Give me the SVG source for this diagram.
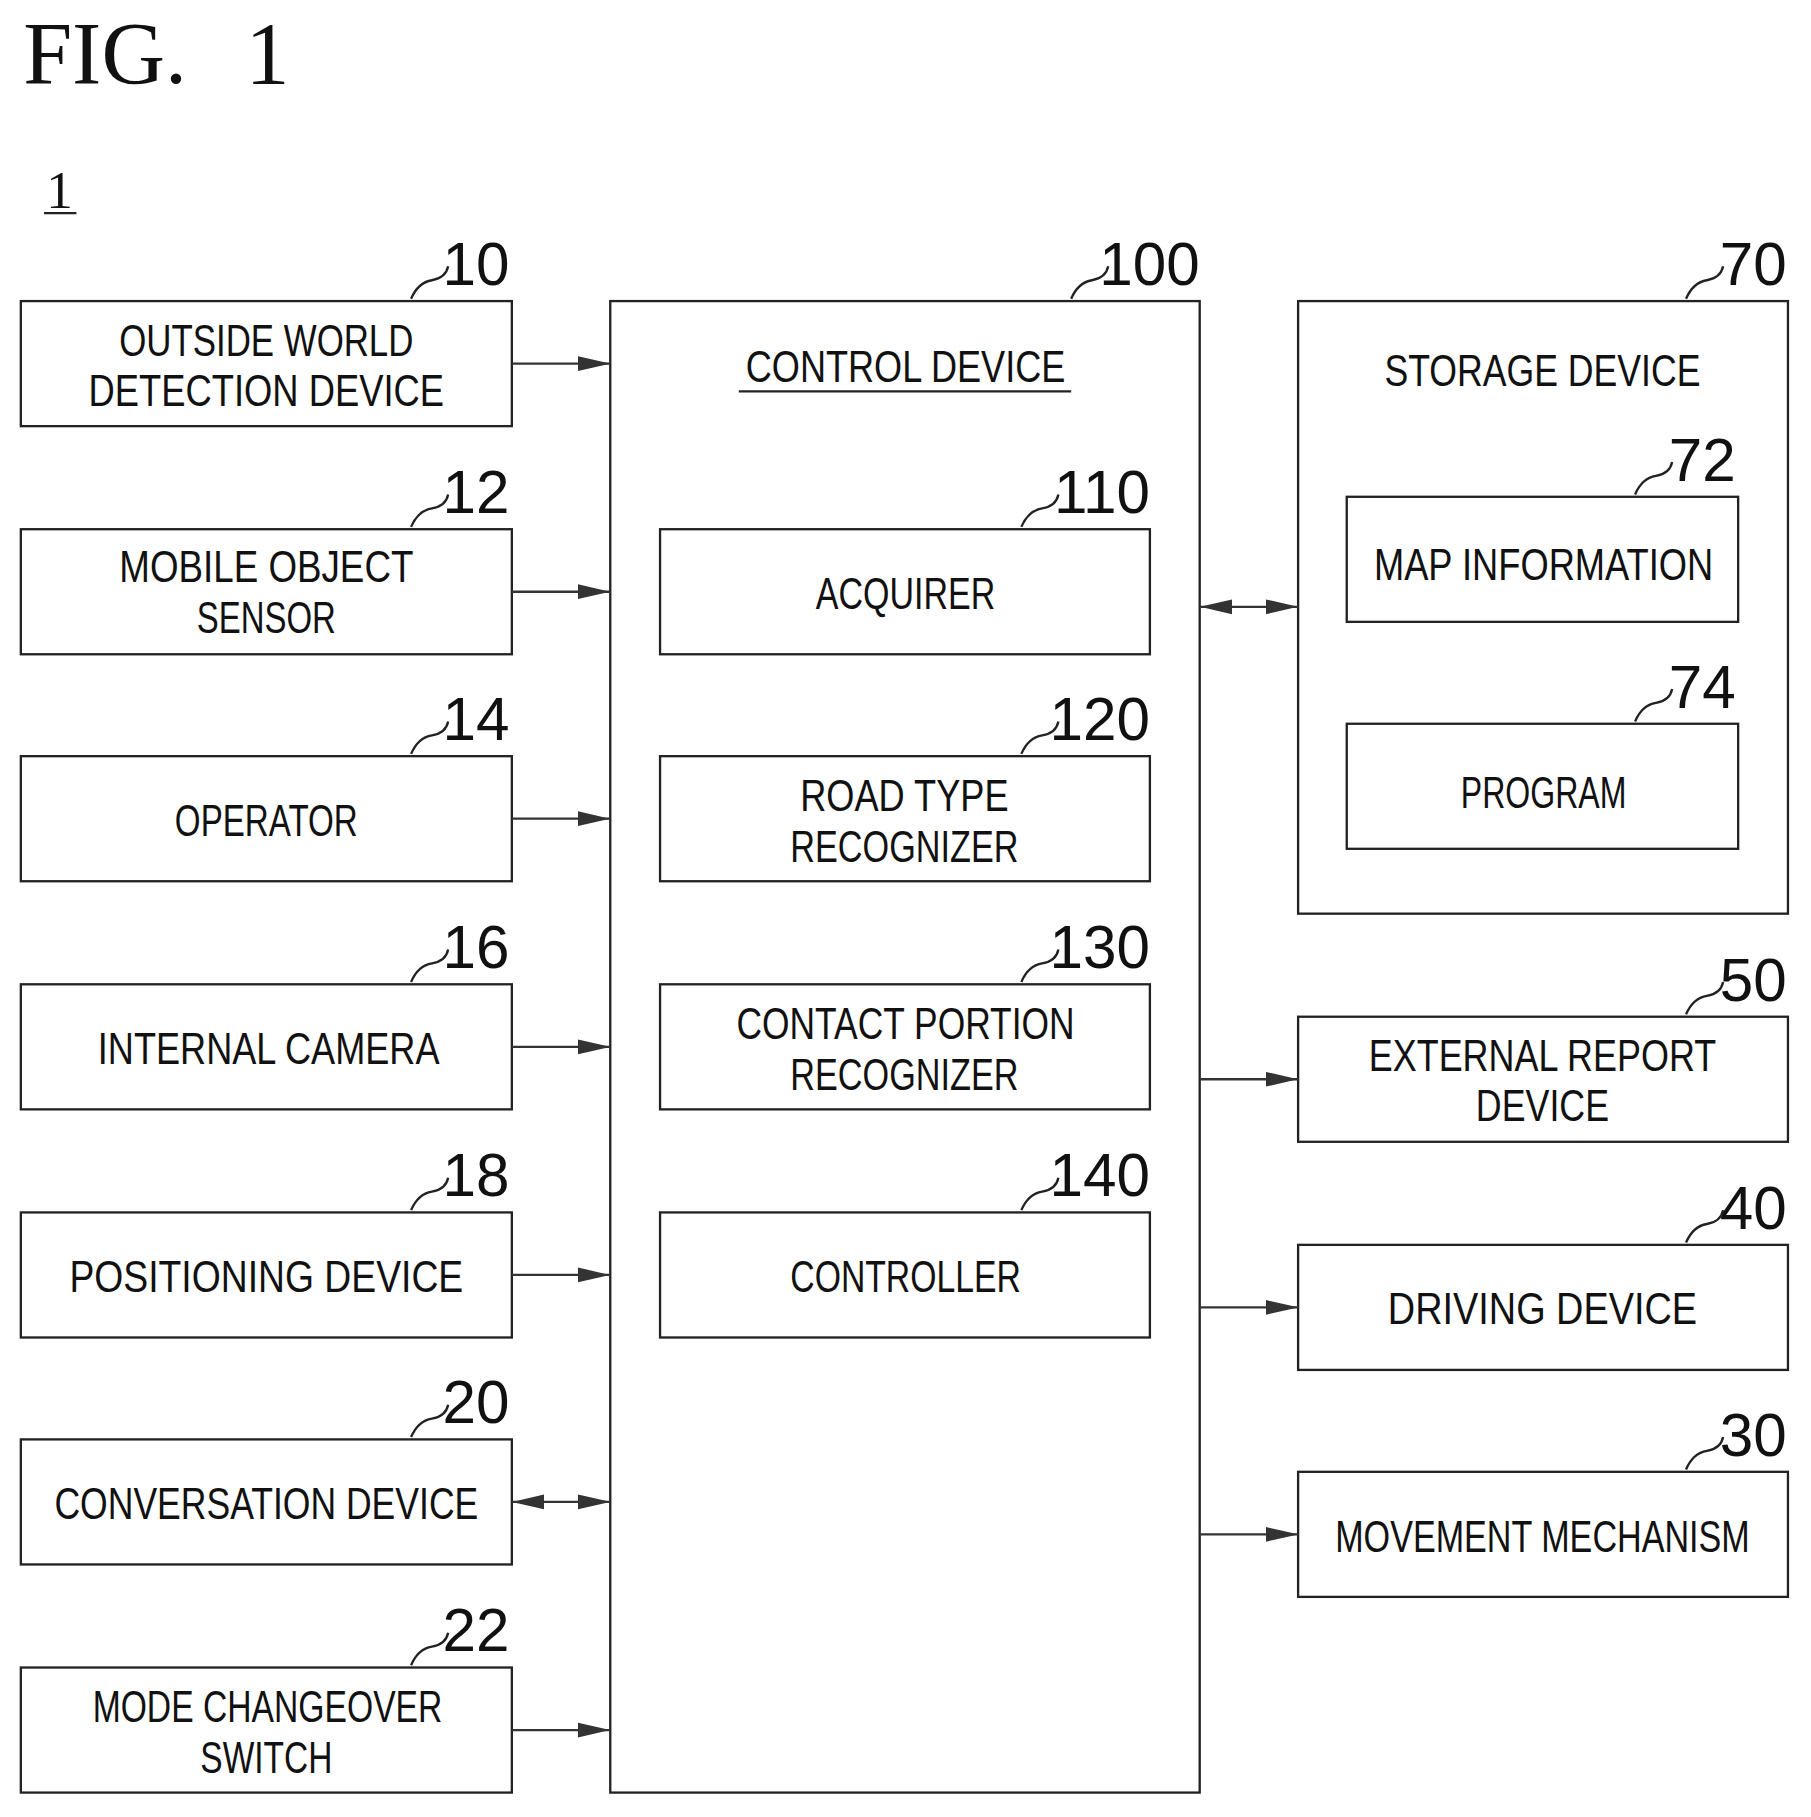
<svg xmlns="http://www.w3.org/2000/svg" width="1811" height="1817" viewBox="0 0 1811 1817">
<defs>
<marker id="a" viewBox="0 0 10 10" refX="10" refY="5" markerWidth="28" markerHeight="16" markerUnits="userSpaceOnUse" orient="auto-start-reverse" preserveAspectRatio="none"><path d="M0,1 L10,5 L0,9 Z" fill="#333"/></marker>
</defs>
<style>
rect{fill:#fff;stroke:#222;stroke-width:2}
.t{font-family:"Liberation Sans",Arial,sans-serif;font-size:38px;fill:#111;text-anchor:middle}
.n{font-family:"Liberation Sans",Arial,sans-serif;font-size:52px;fill:#111;text-anchor:end}
.l{fill:none;stroke:#222;stroke-width:2}
.c{stroke:#333;stroke-width:2;fill:none;marker-end:url(#a)}
</style>
<rect x="0" y="0" width="1811" height="1817" style="stroke:none"/>
<g transform="scale(1.158)">
<text x="20" y="72" style="font-family:'Liberation Serif',serif;font-size:76px;fill:#111">FIG.</text>
<text x="212" y="72" style="font-family:'Liberation Serif',serif;font-size:76px;fill:#111">1</text>
<text x="40" y="180" style="font-family:'Liberation Serif',serif;font-size:46px;fill:#111">1</text>
<line x1="38" y1="184" x2="66" y2="184" class="l"/>

<g id="n10"><rect x="18" y="260" width="424" height="108"/><text class="t" x="230" y="307" textLength="254" lengthAdjust="spacingAndGlyphs">OUTSIDE  WORLD</text><text class="t" x="230" y="351" textLength="307" lengthAdjust="spacingAndGlyphs">DETECTION  DEVICE</text><text class="n" x="440" y="246">10</text><path class="l" d="M355 258 q6 -14 18 -16 t14 -12"/></g>
<g id="n12"><rect x="18" y="457" width="424" height="108"/><text class="t" x="230" y="503" textLength="254" lengthAdjust="spacingAndGlyphs">MOBILE  OBJECT</text><text class="t" x="230" y="547" textLength="120" lengthAdjust="spacingAndGlyphs">SENSOR</text><text class="n" x="440" y="443">12</text><path class="l" d="M355 455 q6 -14 18 -16 t14 -12"/></g>
<g id="n14"><rect x="18" y="653" width="424" height="108"/><text class="t" x="230" y="722" textLength="158" lengthAdjust="spacingAndGlyphs">OPERATOR</text><text class="n" x="440" y="639">14</text><path class="l" d="M355 651 q6 -14 18 -16 t14 -12"/></g>
<g id="n16"><rect x="18" y="850" width="424" height="108"/><text class="t" x="232" y="919" textLength="295" lengthAdjust="spacingAndGlyphs">INTERNAL  CAMERA</text><text class="n" x="440" y="836">16</text><path class="l" d="M355 848 q6 -14 18 -16 t14 -12"/></g>
<g id="n18"><rect x="18" y="1047" width="424" height="108"/><text class="t" x="230" y="1116" textLength="340" lengthAdjust="spacingAndGlyphs">POSITIONING  DEVICE</text><text class="n" x="440" y="1033">18</text><path class="l" d="M355 1045 q6 -14 18 -16 t14 -12"/></g>
<g id="n20"><rect x="18" y="1243" width="424" height="108"/><text class="t" x="230" y="1312" textLength="366" lengthAdjust="spacingAndGlyphs">CONVERSATION  DEVICE</text><text class="n" x="440" y="1229">20</text><path class="l" d="M355 1241 q6 -14 18 -16 t14 -12"/></g>
<g id="n22"><rect x="18" y="1440" width="424" height="108"/><text class="t" x="231" y="1487" textLength="302" lengthAdjust="spacingAndGlyphs">MODE  CHANGEOVER</text><text class="t" x="230" y="1531" textLength="114" lengthAdjust="spacingAndGlyphs">SWITCH</text><text class="n" x="440" y="1426">22</text><path class="l" d="M355 1438 q6 -14 18 -16 t14 -12"/></g>

<g id="n100"><rect x="527" y="260" width="509" height="1288"/><text class="t" x="782" y="330" textLength="276" lengthAdjust="spacingAndGlyphs">CONTROL  DEVICE</text><line class="l" x1="638" y1="338" x2="925" y2="338"/><text class="n" x="1036" y="246">100</text><path class="l" d="M925 258 q6 -14 18 -16 t14 -12"/></g>
<g id="n110"><rect x="570" y="457" width="423" height="108"/><text class="t" x="782" y="526" textLength="155" lengthAdjust="spacingAndGlyphs">ACQUIRER</text><text class="n" x="993" y="443">110</text><path class="l" d="M882 455 q6 -14 18 -16 t14 -12"/></g>
<g id="n120"><rect x="570" y="653" width="423" height="108"/><text class="t" x="781" y="700" textLength="180" lengthAdjust="spacingAndGlyphs">ROAD  TYPE</text><text class="t" x="781" y="744" textLength="197" lengthAdjust="spacingAndGlyphs">RECOGNIZER</text><text class="n" x="993" y="639">120</text><path class="l" d="M882 651 q6 -14 18 -16 t14 -12"/></g>
<g id="n130"><rect x="570" y="850" width="423" height="108"/><text class="t" x="782" y="897" textLength="292" lengthAdjust="spacingAndGlyphs">CONTACT  PORTION</text><text class="t" x="781" y="941" textLength="197" lengthAdjust="spacingAndGlyphs">RECOGNIZER</text><text class="n" x="993" y="836">130</text><path class="l" d="M882 848 q6 -14 18 -16 t14 -12"/></g>
<g id="n140"><rect x="570" y="1047" width="423" height="108"/><text class="t" x="782" y="1116" textLength="199" lengthAdjust="spacingAndGlyphs">CONTROLLER</text><text class="n" x="993" y="1033">140</text><path class="l" d="M882 1045 q6 -14 18 -16 t14 -12"/></g>

<g id="n70"><rect x="1121" y="260" width="423" height="529"/><text class="t" x="1332" y="333" textLength="273" lengthAdjust="spacingAndGlyphs">STORAGE  DEVICE</text><text class="n" x="1543" y="246">70</text><path class="l" d="M1456 258 q6 -14 18 -16 t14 -12"/></g>
<g id="n72"><rect x="1163" y="429" width="338" height="108"/><text class="t" x="1333" y="501" textLength="293" lengthAdjust="spacingAndGlyphs">MAP  INFORMATION</text><text class="n" x="1499" y="415">72</text><path class="l" d="M1412 427 q6 -14 18 -16 t14 -12"/></g>
<g id="n74"><rect x="1163" y="625" width="338" height="108"/><text class="t" x="1333" y="698" textLength="143" lengthAdjust="spacingAndGlyphs">PROGRAM</text><text class="n" x="1499" y="611">74</text><path class="l" d="M1412 623 q6 -14 18 -16 t14 -12"/></g>
<g id="n50"><rect x="1121" y="878" width="423" height="108"/><text class="t" x="1332" y="925" textLength="300" lengthAdjust="spacingAndGlyphs">EXTERNAL  REPORT</text><text class="t" x="1332" y="968" textLength="115" lengthAdjust="spacingAndGlyphs">DEVICE</text><text class="n" x="1543" y="864">50</text><path class="l" d="M1456 876 q6 -14 18 -16 t14 -12"/></g>
<g id="n40"><rect x="1121" y="1075" width="423" height="108"/><text class="t" x="1332" y="1143" textLength="267" lengthAdjust="spacingAndGlyphs">DRIVING  DEVICE</text><text class="n" x="1543" y="1061">40</text><path class="l" d="M1456 1073 q6 -14 18 -16 t14 -12"/></g>
<g id="n30"><rect x="1121" y="1271" width="423" height="108"/><text class="t" x="1332" y="1340" textLength="358" lengthAdjust="spacingAndGlyphs">MOVEMENT  MECHANISM</text><text class="n" x="1543" y="1257">30</text><path class="l" d="M1456 1269 q6 -14 18 -16 t14 -12"/></g>

<g id="connectors">
<line class="c" x1="442" y1="314" x2="527" y2="314"/>
<line class="c" x1="442" y1="511" x2="527" y2="511"/>
<line class="c" x1="442" y1="707" x2="527" y2="707"/>
<line class="c" x1="442" y1="904" x2="527" y2="904"/>
<line class="c" x1="442" y1="1101" x2="527" y2="1101"/>
<line class="c" x1="442" y1="1297" x2="527" y2="1297" style="marker-start:url(#a)"/>
<line class="c" x1="442" y1="1494" x2="527" y2="1494"/>
<line class="c" x1="1036" y1="524" x2="1121" y2="524" style="marker-start:url(#a)"/>
<line class="c" x1="1036" y1="932" x2="1121" y2="932"/>
<line class="c" x1="1036" y1="1129" x2="1121" y2="1129"/>
<line class="c" x1="1036" y1="1325" x2="1121" y2="1325"/>
</g>
</g>
</svg>
